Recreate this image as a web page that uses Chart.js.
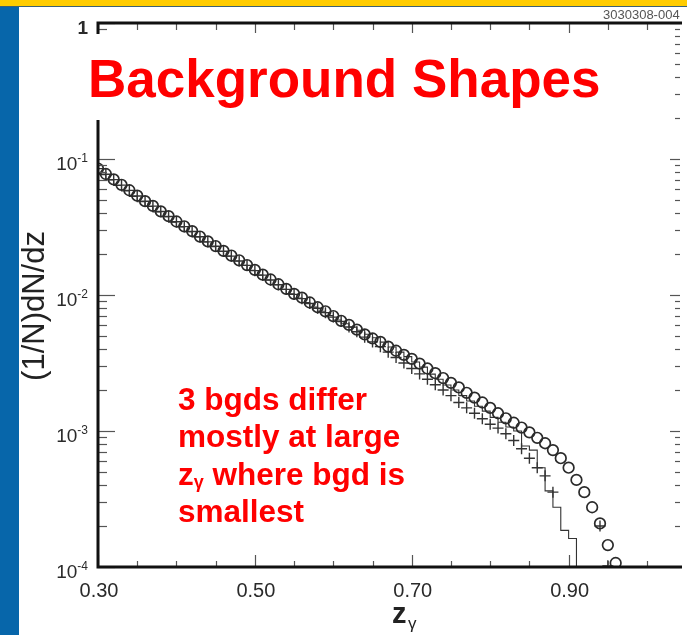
<!DOCTYPE html>
<html><head><meta charset="utf-8">
<script src="https://cdn.jsdelivr.net/npm/chart.js@4.4.1/dist/chart.umd.min.js"></script>
<style>html,body{margin:0;padding:0;background:#fff;overflow:hidden}canvas{display:block}</style>
</head><body>
<canvas id="c" width="687" height="635"></canvas>
<script>
// ---- data ----
const circleZ = [0.30,0.31,0.32,0.33,0.34,0.35,0.36,0.37,0.38,0.39,
  0.40,0.41,0.42,0.43,0.44,0.45,0.46,0.47,0.48,0.49,
  0.50,0.51,0.52,0.53,0.54,0.55,0.56,0.57,0.58,0.59,
  0.60,0.61,0.62,0.63,0.64,0.65,0.66,0.67,0.68,0.69,
  0.70,0.71,0.72,0.73,0.74,0.75,0.76,0.77,0.78,0.79,
  0.80,0.81,0.82,0.83,0.84,0.85,0.86,0.87,0.88,0.89,
  0.90,0.91,0.92,0.93,0.94,0.95,0.96];
const circleVals = [0.0851,0.0776,0.0708,0.0646,0.0589,0.0537,0.0490,0.0452,0.0412,0.0380,
  0.0347,0.0320,0.0295,0.0269,0.0248,0.0229,0.0211,0.0195,0.0180,0.0166,
  0.0153,0.0141,0.0130,0.0120,0.0111,0.0102,0.00955,0.00881,0.00813,0.00759,
  0.00700,0.00646,0.00603,0.00556,0.00513,0.00479,0.00452,0.00417,0.00389,0.00363,
  0.00339,0.00313,0.00288,0.00266,0.00245,0.00226,0.00209,0.00191,0.00176,0.00162,
  0.00148,0.00135,0.00124,0.00115,0.00106,0.000977,0.000891,0.000813,0.000724,0.000631,
  0.000537,0.000437,0.000355,0.000275,0.000209,0.000145,0.000107];

const crossZ = [0.30,0.31,0.32,0.33,0.34,0.35,0.36,0.37,0.38,0.39,
  0.40,0.41,0.42,0.43,0.44,0.45,0.46,0.47,0.48,0.49,
  0.50,0.51,0.52,0.53,0.54,0.55,0.56,0.57,0.58,0.59,
  0.60,0.61,0.62,0.63,0.64,0.65,0.66,0.67,0.68,0.69,
  0.70,0.71,0.72,0.73,0.74,0.75,0.76,0.77,0.78,0.79,
  0.80,0.81,0.82,0.83,0.84,0.85,0.86,0.87,0.88,0.94,0.95];
const crossVals = [0.0849,0.0772,0.0705,0.0643,0.0588,0.0535,0.0489,0.0450,0.0411,0.0378,
  0.0346,0.0318,0.0293,0.0268,0.0246,0.0228,0.0210,0.0193,0.0178,0.0165,
  0.0151,0.0140,0.0129,0.0119,0.0110,0.0101,0.00940,0.00866,0.00800,0.00742,
  0.00688,0.00638,0.00582,0.00537,0.00490,0.00452,0.00417,0.00380,0.00347,0.00316,
  0.00288,0.00263,0.00240,0.00219,0.00200,0.00182,0.00162,0.00148,0.00135,0.00123,
  0.00112,0.00105,0.000955,0.000851,0.000741,0.000631,0.000537,0.000468,0.000355,0.000200,0.000102];

const histZ = [0.30,0.31,0.32,0.33,0.34,0.35,0.36,0.37,0.38,0.39,
  0.40,0.41,0.42,0.43,0.44,0.45,0.46,0.47,0.48,0.49,
  0.50,0.51,0.52,0.53,0.54,0.55,0.56,0.57,0.58,0.59,
  0.60,0.61,0.62,0.63,0.64,0.65,0.66,0.67,0.68,0.69,
  0.70,0.71,0.72,0.73,0.74,0.75,0.76,0.77,0.78,0.79,
  0.80,0.81,0.82,0.83,0.84,0.85,0.86,0.87,0.88,0.89,
  0.90,0.91,0.92];
const histVals = [0.0835,0.0765,0.0700,0.0638,0.0582,0.0531,0.0485,0.0447,0.0408,0.0376,
  0.0343,0.0317,0.0292,0.0267,0.0246,0.0227,0.0209,0.0193,0.0178,0.0165,
  0.0152,0.0140,0.0129,0.0119,0.0110,0.0102,0.00950,0.00880,0.00815,0.00760,
  0.00705,0.00655,0.00615,0.00580,0.00550,0.00515,0.00485,0.00450,0.00415,0.00380,
  0.00352,0.00322,0.00295,0.00262,0.00240,0.00218,0.00200,0.00182,0.00166,0.00152,
  0.00140,0.00126,0.00116,0.00107,0.00100,0.000776,0.000724,0.000537,0.000363,0.000275,
  0.000186,0.000162,0.00001];

const xMajorTicks = [0.30,0.50,0.70,0.90];
const xTickLabels = ["0.30","0.50","0.70","0.90"];
const xMinorTicks = [0.35,0.40,0.45,0.55,0.60,0.65,0.75,0.80,0.85,0.95,1.00];
const yMajorTicks = [1,0.1,0.01,0.001,0.0001];
const yTickBase = ["1","10","10","10","10"];
const yTickExp = ["","-1","-2","-3","-4"];

const SANS = '"Liberation Sans", Arial, Helvetica, sans-serif';

const deco = {
  id: 'deco',
  beforeDraw(chart) {
    const ctx = chart.ctx;
    ctx.save();
    ctx.fillStyle = '#ffffff';
    ctx.fillRect(0, 0, 687, 635);
    ctx.fillStyle = '#0766aa';
    ctx.fillRect(0, 6, 19, 629);
    ctx.fillStyle = '#ffcc00';
    ctx.fillRect(0, 0, 687, 6);
    ctx.fillStyle = '#3c6173';
    ctx.fillRect(0, 6, 687, 1);
    ctx.restore();
  },
  afterDatasetsDraw(chart) {
    const ctx = chart.ctx, xs = chart.scales.x, ys = chart.scales.y, a = chart.chartArea;
    ctx.save();
    ctx.strokeStyle = '#555';
    ctx.lineWidth = 1.2;
    const line = (x1,y1,x2,y2)=>{ctx.beginPath();ctx.moveTo(x1,y1);ctx.lineTo(x2,y2);ctx.stroke();};
    xMajorTicks.forEach(v=>{const x=Math.round(xs.getPixelForValue(v))+0.5; line(x,a.bottom,x,a.bottom-12); line(x,a.top,x,a.top+10);});
    xMinorTicks.forEach(v=>{const x=Math.round(xs.getPixelForValue(v))+0.5; line(x,a.bottom,x,a.bottom-6); line(x,a.top,x,a.top+7);});
    yMajorTicks.forEach(v=>{const y=Math.round(ys.getPixelForValue(v))+0.5; line(a.left,y,a.left+17,y); line(a.right,y,a.right-10,y);});
    for (let k=0;k<4;k++){ for (let m=2;m<=9;m++){ const v=m*Math.pow(10,-(k+1)); const y=Math.round(ys.getPixelForValue(v))+0.5; line(a.left,y,a.left+9,y); line(a.right,y,a.right-5,y);} }
    ctx.strokeStyle = '#111';
    ctx.lineWidth = 3;
    ctx.beginPath();
    ctx.moveTo(a.right+2, a.top); ctx.lineTo(a.left, a.top); ctx.lineTo(a.left, a.bottom); ctx.lineTo(a.right+2, a.bottom);
    ctx.stroke();
    ctx.fillStyle = '#2a2a2a';
    ctx.font = '20px ' + SANS;
    ctx.textAlign = 'center';
    ctx.textBaseline = 'alphabetic';
    xMajorTicks.forEach((v,i)=>{ctx.fillText(xTickLabels[i], xs.getPixelForValue(v)+1, 597);});
    yMajorTicks.forEach((v,i)=>{
      const y = ys.getPixelForValue(v);
      ctx.font = '12px ' + SANS;
      const we = ctx.measureText(yTickExp[i]).width;
      ctx.font = (i===0 ? 'bold ' : '') + '19px ' + SANS;
      const wb = ctx.measureText(yTickBase[i]).width;
      const right = 88;
      ctx.textAlign = 'left';
      ctx.fillText(yTickBase[i], right - we - wb, y + 11);
      ctx.font = '12px ' + SANS;
      ctx.fillText(yTickExp[i], right - we, y + 3);
    });
    ctx.save();
    ctx.translate(44, 306);
    ctx.rotate(-Math.PI/2);
    ctx.font = '31px ' + SANS;
    ctx.fillStyle = '#222';
    ctx.textAlign = 'center';
    ctx.fillText('(1/N)dN/dz', 0, 0);
    ctx.restore();
    ctx.fillStyle = '#222';
    ctx.textAlign = 'left';
    ctx.font = 'bold 29px ' + SANS;
    ctx.fillText('z', 392, 623);
    ctx.font = '17px ' + SANS;
    ctx.fillText('\u03b3', 408, 629);
    ctx.restore();
  },
  afterDraw(chart) {
    const ctx = chart.ctx;
    ctx.save();
    ctx.fillStyle = '#ffffff';
    ctx.fillRect(30, 34, 642, 86);
    ctx.fillStyle = '#ff0000';
    ctx.textAlign = 'left';
    ctx.textBaseline = 'alphabetic';
    ctx.font = 'bold 53px ' + SANS;
    ctx.fillText('Background Shapes', 88, 97);
    ctx.font = 'bold 31.5px ' + SANS;
    ctx.fillText('3 bgds differ', 178, 410);
    ctx.fillText('mostly at large', 178, 447);
    ctx.fillText('z', 178, 485);
    let x = 178 + ctx.measureText('z').width;
    ctx.font = 'bold 18px ' + SANS;
    ctx.fillText('\u03b3', x, 488);
    x += ctx.measureText('\u03b3').width;
    ctx.font = 'bold 31.5px ' + SANS;
    ctx.fillText(' where bgd is', x, 485);
    ctx.fillText('smallest', 178, 522);
    ctx.fillStyle = '#555';
    ctx.font = '13px ' + SANS;
    ctx.fillText('3030308-004', 603, 19);
    ctx.restore();
  }
};

const toPts = (xs, ys) => xs.map((x,i)=>({x:x, y:ys[i]}));

new Chart(document.getElementById('c'), {
  type: 'scatter',
  data: {
    datasets: [
      { label:'circles', data: toPts(circleZ, circleVals), pointStyle:'circle', pointRadius:5.3,
        borderColor:'#2a2a2a', backgroundColor:'rgba(0,0,0,0)', borderWidth:1.7, showLine:false, order:1 },
      { label:'crosses', data: toPts(crossZ, crossVals), pointStyle:'cross', pointRadius:5.5,
        borderColor:'#333', backgroundColor:'#333', borderWidth:1.4, showLine:false, order:2 },
      { label:'hist', type:'line', data: toPts(histZ, histVals), stepped:'after', pointRadius:0,
        borderColor:'#333', borderWidth:1.1, fill:false, order:3 }
    ]
  },
  options: {
    responsive:false, animation:false, devicePixelRatio:1,
    layout:{ padding:{ left:98, top:23, right:0, bottom:68 } },
    plugins:{ legend:{display:false}, tooltip:{enabled:false} },
    scales:{
      x:{ type:'linear', min:0.30, max:1.042, display:false },
      y:{ type:'logarithmic', min:0.0001, max:1, display:false }
    }
  },
  plugins:[deco]
});
</script>
</body></html>
